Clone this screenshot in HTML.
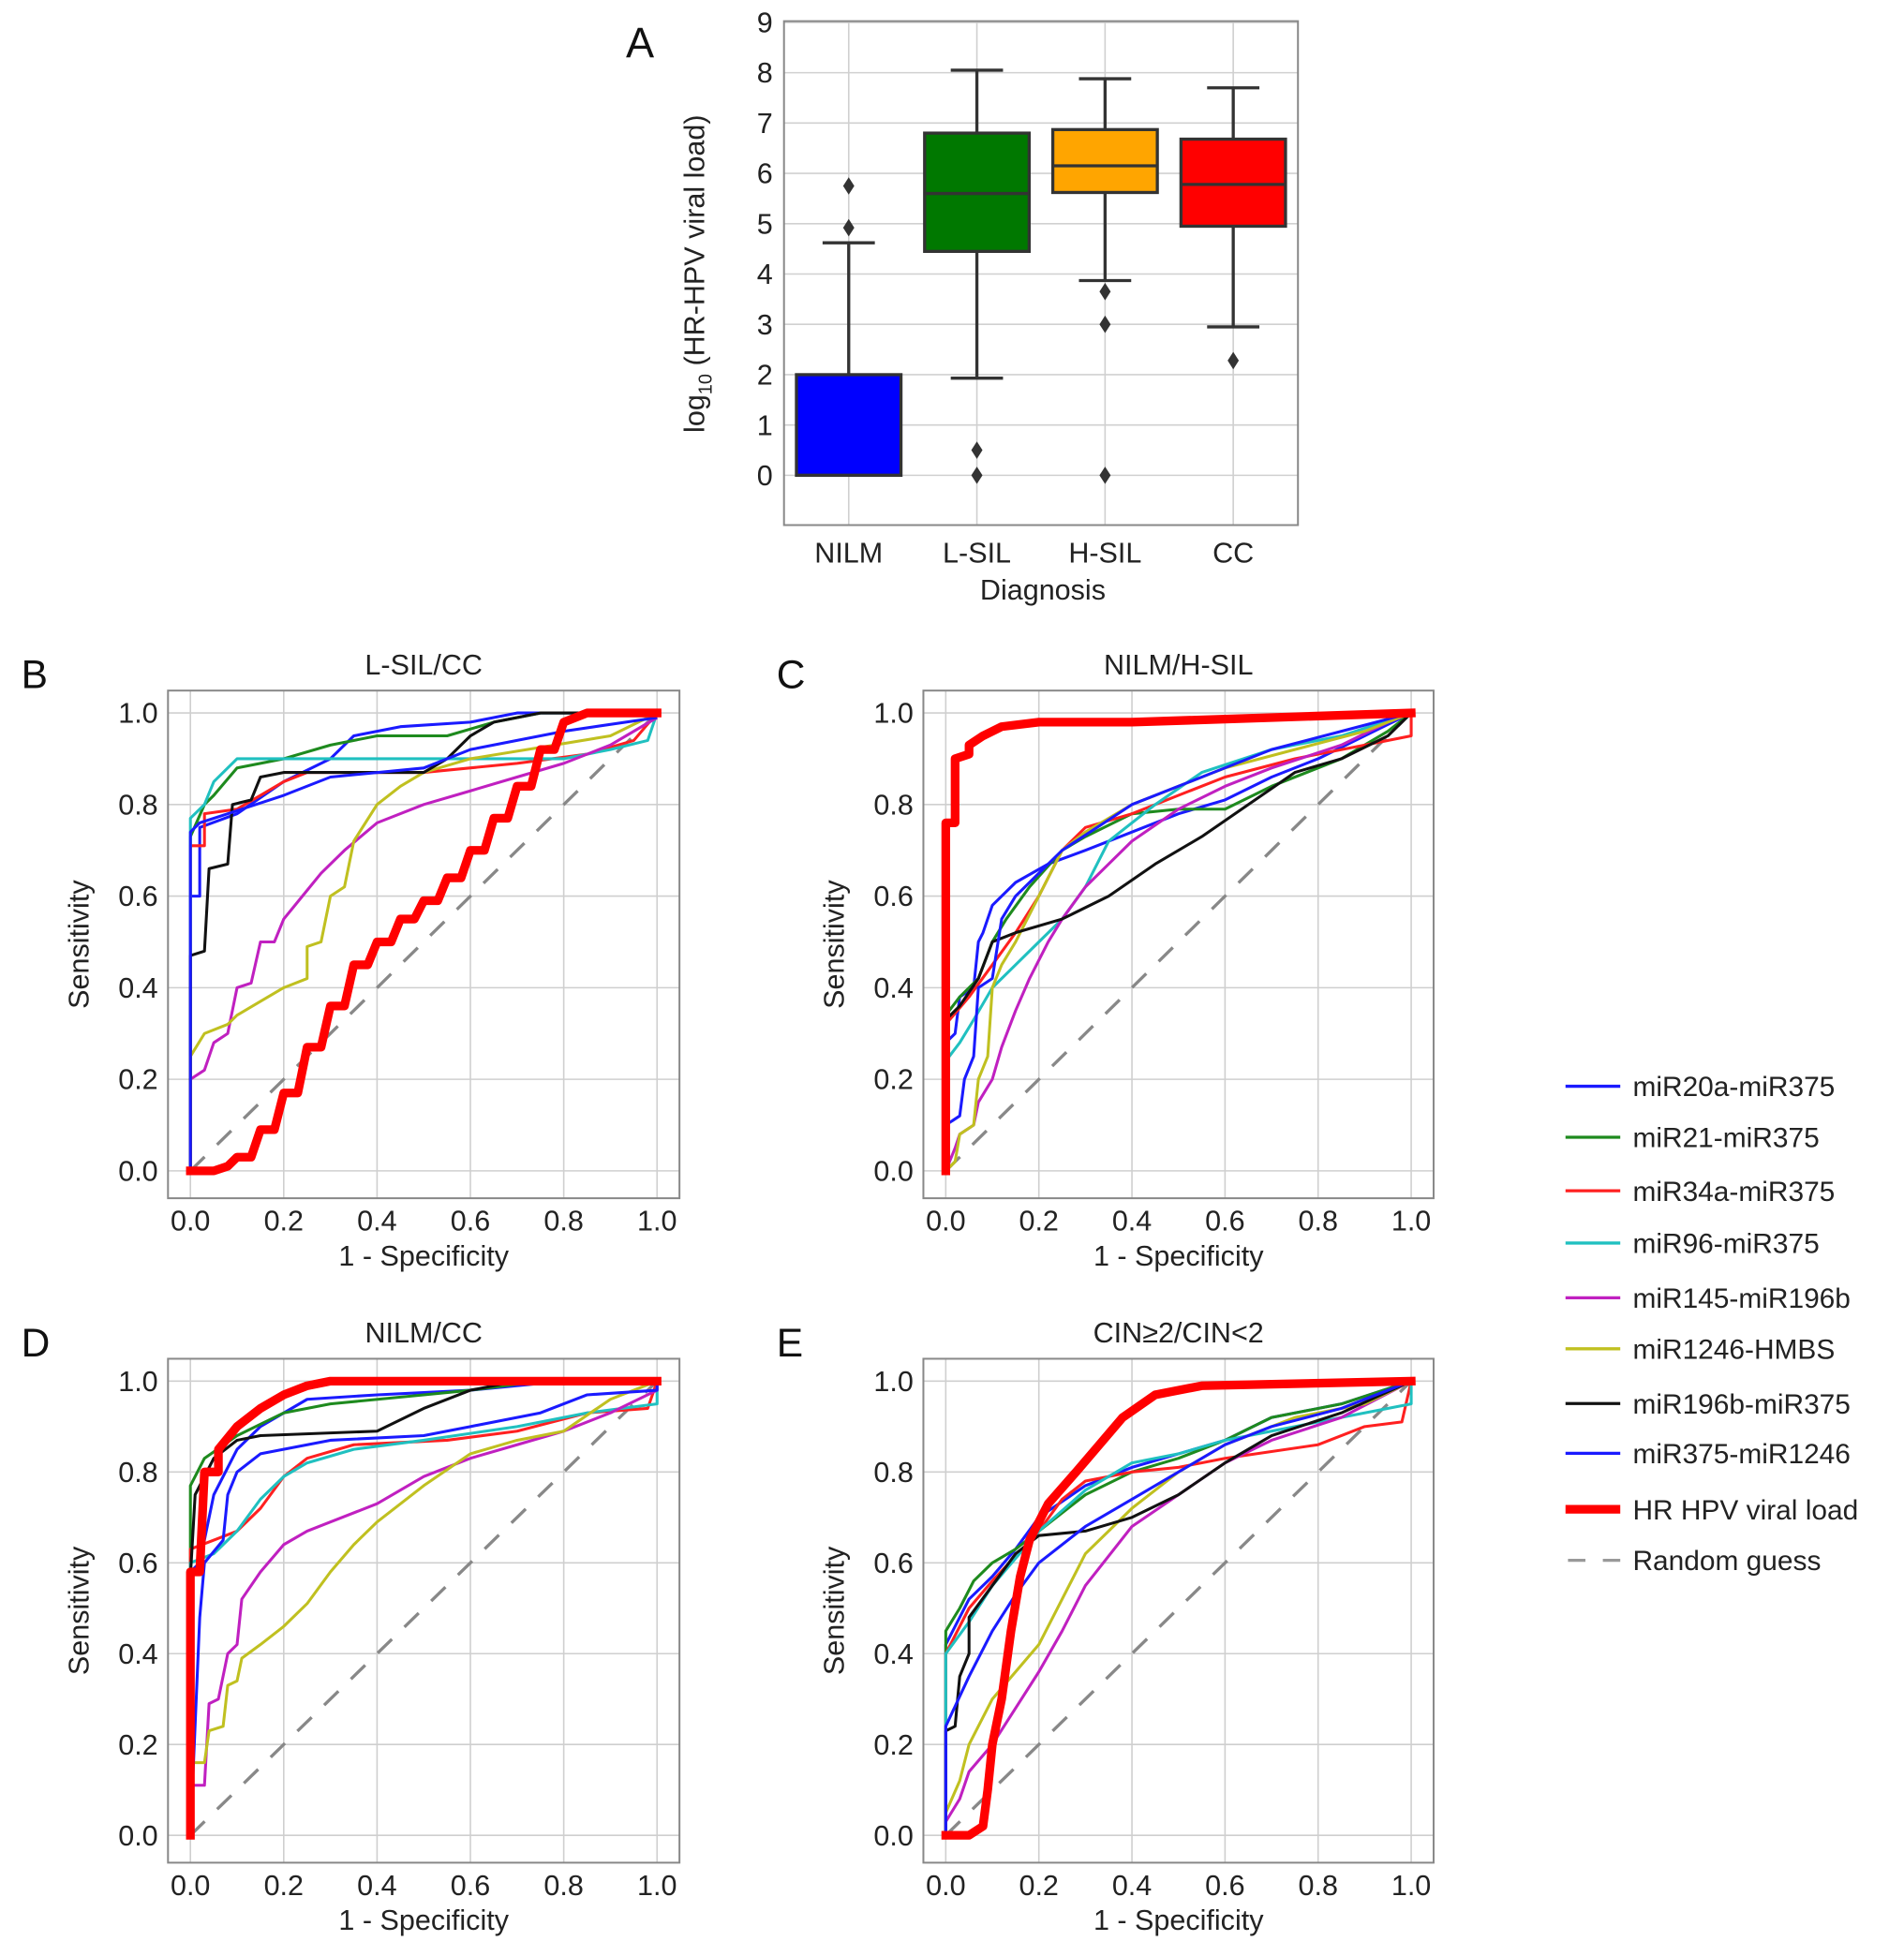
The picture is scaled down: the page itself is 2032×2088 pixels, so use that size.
<!DOCTYPE html>
<html><head><meta charset="utf-8">
<style>
html,body{margin:0;padding:0;background:#fff;}
svg{display:block;font-family:"Liberation Sans",Arial,sans-serif;}
</style></head>
<body>
<svg id="fig" width="2032" height="2088" viewBox="0 0 1530 1572" preserveAspectRatio="none" xmlns="http://www.w3.org/2000/svg">
</svg>
<script>
// ---------- Panel A data ----------
const boxCategories = ["NILM","L-SIL","H-SIL","CC"];
const boxQ1 = [0, 4.45, 5.62, 4.95];
const boxMedian = [0, 5.6, 6.15, 5.78];
const boxQ3 = [2.0, 6.8, 6.87, 6.68];
const boxWhiskerLow = [0, 1.93, 3.87, 2.95];
const boxWhiskerHigh = [4.62, 8.05, 7.88, 7.7];
const boxOutliers = [[4.92, 5.75], [0.5, 0], [3.65, 3.0, 0], [2.28]];
const boxColors = ["#0000ff", "#007800", "#ffa500", "#ff0000"];
const boxYTicks = [0,1,2,3,4,5,6,7,8,9];

// ---------- ROC data ----------
const seriesNames = ["miR20a-miR375","miR21-miR375","miR34a-miR375","miR96-miR375","miR145-miR196b","miR1246-HMBS","miR196b-miR375","miR375-miR1246","HR HPV viral load"];
const seriesColors = ["#1a1aff","#1e8a1e","#ff2020","#20c0c0","#c020c0","#c0c020","#111111","#1a1aff","#ff0000"];
const rocTicks = [0,0.2,0.4,0.6,0.8,1.0];
const rocTickLabels = ["0.0","0.2","0.4","0.6","0.8","1.0"];

const rocB = [
 [[0,0],[0,0.6],[0.02,0.6],[0.02,0.75],[0.1,0.78],[0.2,0.85],[0.3,0.9],[0.35,0.95],[0.45,0.97],[0.6,0.98],[0.7,1],[1,1]],
 [[0,0],[0,0.73],[0.03,0.8],[0.05,0.82],[0.1,0.88],[0.2,0.9],[0.3,0.93],[0.4,0.95],[0.55,0.95],[0.65,0.98],[0.75,1],[1,1]],
 [[0,0],[0,0.71],[0.03,0.71],[0.03,0.78],[0.1,0.79],[0.2,0.85],[0.25,0.87],[0.5,0.87],[0.7,0.89],[0.85,0.91],[0.95,0.94],[1,1]],
 [[0,0],[0,0.77],[0.03,0.8],[0.05,0.85],[0.1,0.9],[0.3,0.9],[0.5,0.9],[0.8,0.9],[0.9,0.92],[0.98,0.94],[1,1]],
 [[0,0],[0,0.2],[0.03,0.22],[0.05,0.28],[0.08,0.3],[0.1,0.4],[0.13,0.41],[0.15,0.5],[0.18,0.5],[0.2,0.55],[0.24,0.6],[0.28,0.65],[0.33,0.7],[0.4,0.76],[0.5,0.8],[0.6,0.83],[0.7,0.86],[0.8,0.89],[0.9,0.93],[1,0.99]],
 [[0,0],[0,0.25],[0.03,0.3],[0.08,0.32],[0.1,0.34],[0.15,0.37],[0.2,0.4],[0.25,0.42],[0.25,0.49],[0.28,0.5],[0.3,0.6],[0.33,0.62],[0.35,0.72],[0.4,0.8],[0.45,0.84],[0.5,0.87],[0.6,0.9],[0.78,0.93],[0.9,0.95],[1,1]],
 [[0,0],[0,0.47],[0.03,0.48],[0.04,0.66],[0.08,0.67],[0.09,0.8],[0.13,0.81],[0.15,0.86],[0.2,0.87],[0.5,0.87],[0.55,0.9],[0.6,0.95],[0.65,0.98],[0.75,1],[1,1]],
 [[0,0],[0,0.74],[0.02,0.76],[0.08,0.78],[0.2,0.82],[0.3,0.86],[0.5,0.88],[0.6,0.92],[0.8,0.96],[1,0.99]],
 [[0,0],[0.05,0],[0.08,0.01],[0.1,0.03],[0.13,0.03],[0.15,0.09],[0.18,0.09],[0.2,0.17],[0.23,0.17],[0.25,0.27],[0.28,0.27],[0.3,0.36],[0.33,0.36],[0.35,0.45],[0.38,0.45],[0.4,0.5],[0.43,0.5],[0.45,0.55],[0.48,0.55],[0.5,0.59],[0.53,0.59],[0.55,0.64],[0.58,0.64],[0.6,0.7],[0.63,0.7],[0.65,0.77],[0.68,0.77],[0.7,0.84],[0.73,0.84],[0.75,0.92],[0.78,0.92],[0.8,0.98],[0.85,1],[1,1]]
];
const rocC = [
 [[0,0],[0,0.28],[0.02,0.3],[0.03,0.38],[0.06,0.4],[0.07,0.5],[0.08,0.52],[0.1,0.58],[0.15,0.63],[0.22,0.67],[0.3,0.7],[0.4,0.74],[0.5,0.78],[0.6,0.81],[0.7,0.86],[0.8,0.9],[0.9,0.95],[1,1]],
 [[0,0],[0,0.34],[0.03,0.38],[0.07,0.42],[0.1,0.5],[0.13,0.55],[0.18,0.62],[0.25,0.7],[0.3,0.73],[0.4,0.78],[0.5,0.79],[0.6,0.79],[0.7,0.84],[0.85,0.9],[0.95,0.96],[1,1]],
 [[0,0],[0,0.32],[0.05,0.38],[0.1,0.45],[0.15,0.52],[0.2,0.6],[0.25,0.7],[0.3,0.75],[0.4,0.78],[0.5,0.82],[0.6,0.86],[0.75,0.9],[0.9,0.93],[1,0.95],[1,1]],
 [[0,0],[0,0.24],[0.03,0.28],[0.06,0.33],[0.1,0.4],[0.15,0.45],[0.2,0.5],[0.25,0.55],[0.3,0.62],[0.35,0.72],[0.45,0.8],[0.55,0.87],[0.7,0.92],[0.85,0.95],[1,1]],
 [[0,0],[0.02,0.05],[0.03,0.08],[0.06,0.1],[0.07,0.15],[0.1,0.2],[0.12,0.27],[0.15,0.35],[0.18,0.42],[0.22,0.5],[0.25,0.55],[0.3,0.62],[0.35,0.67],[0.4,0.72],[0.5,0.79],[0.6,0.84],[0.7,0.88],[0.85,0.93],[0.95,0.98],[1,1]],
 [[0,0],[0.02,0.02],[0.03,0.08],[0.06,0.1],[0.07,0.2],[0.09,0.25],[0.1,0.4],[0.12,0.45],[0.15,0.5],[0.2,0.6],[0.25,0.7],[0.3,0.74],[0.4,0.8],[0.5,0.84],[0.6,0.88],[0.75,0.92],[0.9,0.96],[1,1]],
 [[0,0],[0,0.33],[0.03,0.36],[0.07,0.42],[0.1,0.5],[0.15,0.52],[0.25,0.55],[0.35,0.6],[0.45,0.67],[0.55,0.73],[0.65,0.8],[0.75,0.87],[0.85,0.9],[0.95,0.95],[1,1]],
 [[0,0],[0,0.1],[0.03,0.12],[0.04,0.2],[0.06,0.25],[0.07,0.4],[0.1,0.42],[0.12,0.55],[0.15,0.6],[0.25,0.7],[0.4,0.8],[0.55,0.86],[0.7,0.92],[0.85,0.96],[1,1]],
 [[0,0],[0,0.76],[0.02,0.76],[0.02,0.9],[0.05,0.91],[0.05,0.93],[0.08,0.95],[0.12,0.97],[0.2,0.98],[0.4,0.98],[0.7,0.99],[1,1]]
];
const rocD = [
 [[0,0],[0,0.58],[0.02,0.6],[0.05,0.75],[0.1,0.85],[0.15,0.9],[0.25,0.96],[0.4,0.97],[0.6,0.98],[0.8,1],[1,1]],
 [[0,0],[0,0.77],[0.03,0.83],[0.1,0.88],[0.2,0.93],[0.3,0.95],[0.5,0.97],[0.6,0.98],[0.75,1],[1,1]],
 [[0,0],[0,0.63],[0.05,0.65],[0.1,0.67],[0.15,0.72],[0.2,0.79],[0.25,0.83],[0.35,0.86],[0.55,0.87],[0.7,0.89],[0.85,0.93],[0.98,0.94],[1,1]],
 [[0,0],[0,0.6],[0.05,0.62],[0.1,0.67],[0.15,0.74],[0.2,0.79],[0.25,0.82],[0.35,0.85],[0.5,0.87],[0.7,0.9],[0.85,0.93],[1,0.95],[1,1]],
 [[0,0],[0,0.11],[0.03,0.11],[0.04,0.29],[0.06,0.3],[0.08,0.4],[0.1,0.42],[0.11,0.52],[0.15,0.58],[0.2,0.64],[0.25,0.67],[0.3,0.69],[0.4,0.73],[0.5,0.79],[0.6,0.83],[0.7,0.86],[0.8,0.89],[0.9,0.93],[1,0.98],[1,1]],
 [[0,0],[0,0.16],[0.03,0.16],[0.04,0.23],[0.07,0.24],[0.08,0.33],[0.1,0.34],[0.11,0.39],[0.15,0.42],[0.2,0.46],[0.25,0.51],[0.3,0.58],[0.35,0.64],[0.4,0.69],[0.5,0.77],[0.6,0.84],[0.7,0.87],[0.8,0.89],[0.9,0.96],[1,1]],
 [[0,0],[0,0.57],[0.01,0.75],[0.05,0.83],[0.1,0.87],[0.15,0.88],[0.4,0.89],[0.5,0.94],[0.6,0.98],[0.7,1],[1,1]],
 [[0,0],[0.02,0.48],[0.03,0.6],[0.07,0.65],[0.08,0.75],[0.1,0.8],[0.15,0.84],[0.3,0.87],[0.5,0.88],[0.6,0.9],[0.75,0.93],[0.85,0.97],[1,0.98],[1,1]],
 [[0,0],[0,0.58],[0.02,0.58],[0.03,0.8],[0.06,0.8],[0.06,0.85],[0.1,0.9],[0.15,0.94],[0.2,0.97],[0.25,0.99],[0.3,1],[1,1]]
];
const rocE = [
 [[0,0],[0,0.42],[0.05,0.52],[0.1,0.57],[0.15,0.63],[0.2,0.7],[0.3,0.77],[0.4,0.81],[0.5,0.84],[0.6,0.87],[0.7,0.92],[0.85,0.95],[1,1]],
 [[0,0],[0,0.45],[0.03,0.5],[0.06,0.56],[0.1,0.6],[0.15,0.63],[0.2,0.67],[0.3,0.75],[0.4,0.8],[0.5,0.83],[0.6,0.87],[0.7,0.92],[0.85,0.95],[1,1]],
 [[0,0],[0,0.4],[0.05,0.5],[0.1,0.56],[0.2,0.67],[0.25,0.74],[0.3,0.78],[0.4,0.8],[0.5,0.81],[0.6,0.83],[0.8,0.86],[0.9,0.9],[0.98,0.91],[1,1]],
 [[0,0],[0,0.4],[0.05,0.47],[0.1,0.55],[0.2,0.67],[0.3,0.76],[0.4,0.82],[0.5,0.84],[0.6,0.87],[0.75,0.9],[0.9,0.93],[1,0.95],[1,1]],
 [[0,0],[0,0.03],[0.03,0.08],[0.05,0.14],[0.1,0.2],[0.15,0.28],[0.2,0.36],[0.25,0.45],[0.3,0.55],[0.4,0.68],[0.5,0.75],[0.6,0.82],[0.7,0.87],[0.85,0.92],[1,1]],
 [[0,0],[0,0.05],[0.03,0.12],[0.05,0.2],[0.1,0.3],[0.15,0.36],[0.2,0.42],[0.25,0.52],[0.3,0.62],[0.4,0.72],[0.5,0.8],[0.6,0.86],[0.75,0.92],[0.9,0.95],[1,1]],
 [[0,0],[0,0.23],[0.02,0.24],[0.03,0.35],[0.05,0.4],[0.05,0.48],[0.1,0.55],[0.15,0.62],[0.2,0.66],[0.3,0.67],[0.4,0.7],[0.5,0.75],[0.6,0.82],[0.7,0.88],[0.85,0.93],[1,1]],
 [[0,0],[0,0.24],[0.05,0.35],[0.1,0.45],[0.15,0.53],[0.2,0.6],[0.3,0.68],[0.4,0.74],[0.5,0.8],[0.6,0.86],[0.7,0.9],[0.85,0.94],[1,1]],
 [[0,0],[0.05,0],[0.08,0.02],[0.09,0.1],[0.1,0.2],[0.12,0.3],[0.14,0.45],[0.16,0.57],[0.18,0.65],[0.22,0.73],[0.28,0.8],[0.33,0.86],[0.38,0.92],[0.45,0.97],[0.55,0.99],[1,1]]
];
const panelTitles = ["L-SIL/CC","NILM/H-SIL","NILM/CC","CIN\u22652/CIN<2"];
const panelLetters = ["B","C","D","E"];

const NS = "http://www.w3.org/2000/svg";
const svg = document.getElementById('fig');
function mk(tag, attrs, parent, text){
  const e = document.createElementNS(NS, tag);
  for (const k in attrs) e.setAttribute(k, attrs[k]);
  if (text !== undefined) e.textContent = text;
  (parent || svg).appendChild(e);
  return e;
}

// ---------- Panel A ----------
(function(){
  const g = mk('g', {});
  
  
  const L=630,R=1043,T=17,B=422;
  const yv = v => 382 + (0 - v) * (382-18)/9;
  const cx = i => 682 + i*103;
  boxYTicks.forEach(t=>{
    const ln = mk('line',{x1:L,x2:R,y1:yv(t),y2:yv(t),stroke:'#d0d0d0','stroke-width':1.2},g);
    
    
    const tx = mk('text',{x:621,y:yv(t)+8,'text-anchor':'end','font-size':23,fill:'#222'},g,String(t));
    
    
  });
  boxCategories.forEach((c,i)=>{
    mk('line',{x1:cx(i),x2:cx(i),y1:T,y2:B,stroke:'#d0d0d0','stroke-width':1.2},g);
    const tx = mk('text',{x:cx(i),y:452,'text-anchor':'middle','font-size':23,fill:'#222'},g,c);
    
    
  });
  const fr = mk('rect',{x:L,y:T,width:R-L,height:B-T,fill:'none',stroke:'#888','stroke-width':1.5},g);
  
  
  boxCategories.forEach((c,i)=>{
    const x=cx(i), w=84;
    const bg = mk('g',{},g);
    
    
    mk('line',{x1:x,x2:x,y1:yv(boxQ3[i]),y2:yv(boxWhiskerHigh[i]),stroke:'#333','stroke-width':2.5},bg);
    mk('line',{x1:x-21,x2:x+21,y1:yv(boxWhiskerHigh[i]),y2:yv(boxWhiskerHigh[i]),stroke:'#333','stroke-width':2.5},bg);
    if (boxWhiskerLow[i] < boxQ1[i]){
      mk('line',{x1:x,x2:x,y1:yv(boxQ1[i]),y2:yv(boxWhiskerLow[i]),stroke:'#333','stroke-width':2.5},bg);
      mk('line',{x1:x-21,x2:x+21,y1:yv(boxWhiskerLow[i]),y2:yv(boxWhiskerLow[i]),stroke:'#333','stroke-width':2.5},bg);
    }
    mk('rect',{x:x-w/2,y:yv(boxQ3[i]),width:w,height:yv(boxQ1[i])-yv(boxQ3[i]),fill:boxColors[i],stroke:'#333','stroke-width':2.5},bg);
    mk('line',{x1:x-w/2,x2:x+w/2,y1:yv(boxMedian[i]),y2:yv(boxMedian[i]),stroke:'#333','stroke-width':2.5},bg);
    boxOutliers[i].forEach(o=>{
      const y=yv(o);
      const p = mk('polygon',{points:`${x},${y-7} ${x+4.5},${y} ${x},${y+7} ${x-4.5},${y}`,fill:'#333'},bg);
      
      
    });
  });
  const a = mk('text',{x:503,y:46,'font-size':34,fill:'#111'},g,'A');
  
  
  const yl = mk('text',{x:0,y:0,'font-size':23,fill:'#222','text-anchor':'middle',transform:'translate(566,220) rotate(-90)'},g);
  
  
  yl.innerHTML = 'log<tspan font-size="15" dy="6">10</tspan><tspan dy="-6"> (HR-HPV viral load)</tspan>';
  const xl = mk('text',{x:838,y:482,'text-anchor':'middle','font-size':23,fill:'#222'},g,'Diagnosis');
  
  
})();

// ---------- ROC panels ----------
const panels = [
  {data:rocB, L:135,R:546,T:555,B:963},
  {data:rocC, L:742,R:1152,T:555,B:963},
  {data:rocD, L:135,R:546,T:1092,B:1497},
  {data:rocE, L:742,R:1152,T:1092,B:1497}
];
panels.forEach((p,pi)=>{
  const g = mk('g',{});
  
  
  const x0=p.L+18, x1=p.R-18, y0=p.B-22, y1=p.T+18;
  const xs = v => x0 + v*(x1-x0);
  const ys = v => y0 + v*(y1-y0);
  rocTicks.forEach((t,i)=>{
    mk('line',{x1:xs(t),x2:xs(t),y1:p.T,y2:p.B,stroke:'#cfcfcf','stroke-width':1.2},g);
    mk('line',{x1:p.L,x2:p.R,y1:ys(t),y2:ys(t),stroke:'#cfcfcf','stroke-width':1.2},g);
    const xt = mk('text',{x:xs(t),y:p.B+26,'text-anchor':'middle','font-size':23,fill:'#222'},g,rocTickLabels[i]);
    
    
    const yt = mk('text',{x:p.L-8,y:ys(t)+8,'text-anchor':'end','font-size':23,fill:'#222'},g,rocTickLabels[i]);
    
    
  });
  const fr = mk('rect',{x:p.L,y:p.T,width:p.R-p.L,height:p.B-p.T,fill:'none',stroke:'#888','stroke-width':1.5},g);
  
  
  const diag = mk('line',{x1:xs(0),y1:ys(0),x2:xs(1),y2:ys(1),stroke:'#888','stroke-width':2.5,'stroke-dasharray':'16,14'},g);
  
  
  p.data.forEach((s,si)=>{
    const pts = s.map(d=>xs(d[0]).toFixed(1)+','+ys(d[1]).toFixed(1)).join(' ');
    const isH = si===8;
    const pl = mk('polyline',{points:pts,fill:'none',stroke:seriesColors[si],'stroke-width':isH?7:2.3,'stroke-linejoin':'round','stroke-linecap':isH?'square':'butt'},g);
    
    
  });
  const ti = mk('text',{x:(p.L+p.R)/2,y:p.T-13,'text-anchor':'middle','font-size':23,fill:'#222'},g,panelTitles[pi]);
  
  
  const le = mk('text',{x:p.L-118,y:p.T-2,'font-size':32,fill:'#111'},g,panelLetters[pi]);
  
  
  const xl = mk('text',{x:(p.L+p.R)/2,y:p.B+54,'text-anchor':'middle','font-size':23,fill:'#222'},g,'1 - Specificity');
  
  
  const yl = mk('text',{x:0,y:0,'text-anchor':'middle','font-size':23,fill:'#222',transform:`translate(${p.L-64},${(p.T+p.B)/2}) rotate(-90)`},g,'Sensitivity');
  
  
});

// ---------- Legend ----------
(function(){
  const g = mk('g',{});
  
  
  const ys = [873,914,957,999,1043,1084,1128,1168,1213,1254];
  const names = seriesNames.concat(["Random guess"]);
  names.forEach((n,i)=>{
    const y = ys[i];
    const e = mk('g',{},g);
    
    
    if (i<9){
      mk('line',{x1:1258,x2:1302,y1:y,y2:y,stroke:seriesColors[i],'stroke-width':i===8?7:2.5},e);
    } else {
      mk('line',{x1:1260,x2:1302,y1:y,y2:y,stroke:'#999','stroke-width':2.5,'stroke-dasharray':'14,14'},e);
    }
    mk('text',{x:1312,y:y+8,'font-size':22.5,fill:'#222'},e,n);
  });
})();
</script>
</body></html>
